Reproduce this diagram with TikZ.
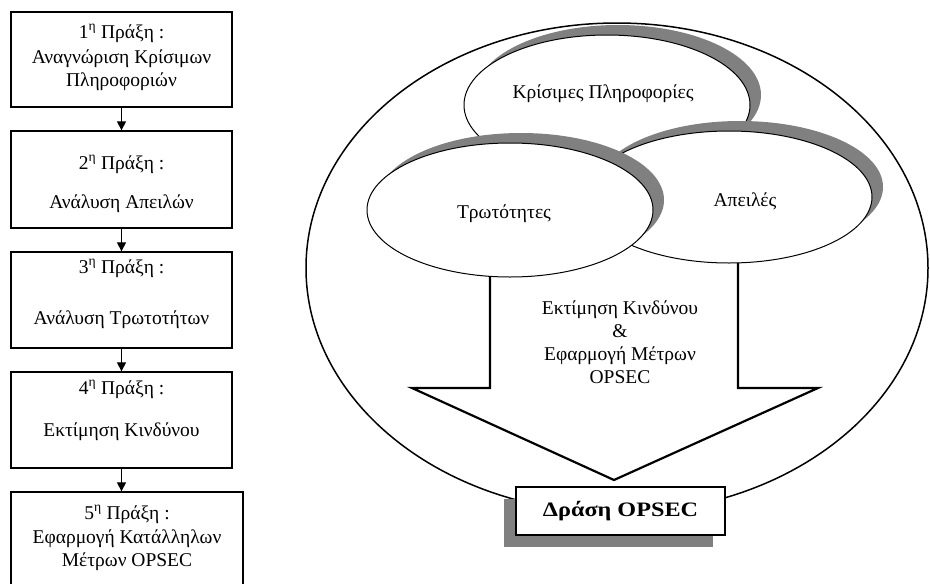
\documentclass[tikz,border=0pt]{standalone}
\usepackage{fontspec}
\usepackage{graphicx}
\setmainfont{Liberation Serif}
\usetikzlibrary{arrows.meta,shapes.geometric,shadows}
\definecolor{shadowgray}{RGB}{128,128,128}
\begin{document}
\begin{tikzpicture}[x=1pt,y=-1pt,
  stepbox/.style={draw, line width=1.3pt, inner sep=0pt, fill=white},
  txt/.style={font=\fontsize{19.5}{24}\selectfont, inner sep=0pt, anchor=base},
  flow/.style={line width=1.2pt, -{Triangle[width=9pt,length=9pt]}},
  oval/.style={ellipse, draw, line width=1pt, fill=white, inner sep=0pt, minimum width=286pt},
  ovalshadow/.style={drop shadow={shadow xshift=11pt, shadow yshift=10pt, fill=shadowgray, opacity=1}},
  bigarrow/.style={draw, line width=2.2pt, line join=miter},
  resultbox/.style={draw, line width=1.3pt, fill=white, inner sep=0pt,
     minimum width=209pt, minimum height=48pt,
     font=\fontsize{20.5}{24}\selectfont\bfseries,
     drop shadow={shadow xshift=-12pt, shadow yshift=-12pt, fill=shadowgray, opacity=1}},
]
\useasboundingbox (0,0) rectangle (930,584);

% ---- left flow of steps ----
\node[stepbox, minimum width=221pt, minimum height=95pt] (b1) at (121.5,59.5) {};
\node[stepbox, minimum width=221pt, minimum height=97pt] (b2) at (121.5,179.5) {};
\node[stepbox, minimum width=221pt, minimum height=96pt] (b3) at (121.5,300) {};
\node[stepbox, minimum width=221pt, minimum height=96pt] (b4) at (121.5,420) {};
\node[stepbox, minimum width=232pt, minimum height=94pt] (b5) at (127,539) {};

\node[txt] (t1a) at (121.5,38) {1\textsuperscript{η} Πράξη :};
\node[txt] (t1b) at (121.5,63) {Αναγνώριση Κρίσιμων};
\node[txt] (t1c) at (121.5,86) {Πληροφοριών};
\node[txt] (t2a) at (121.5,169) {2\textsuperscript{η} Πράξη :};
\node[txt] (t2b) at (121.5,208) {Ανάλυση Απειλών};
\node[txt] (t3a) at (121.5,273) {3\textsuperscript{η} Πράξη :};
\node[txt] (t3b) at (121.5,324) {Ανάλυση Τρωτοτήτων};
\node[txt] (t4a) at (121.5,394) {4\textsuperscript{η} Πράξη :};
\node[txt] (t4b) at (121.5,436) {Εκτίμηση Κινδύνου};
\node[txt] (t5a) at (127,519) {5\textsuperscript{η} Πράξη :};
\node[txt] (t5b) at (127,543) {Εφαρμογή Κατάλληλων};
\node[txt] (t5c) at (127,566) {Μέτρων OPSEC};

\draw[flow] (b1.south) -- (b2.north);
\draw[flow] (b2.south) -- (b3.north);
\draw[flow] (b3.south) -- (b4.north);
\draw[flow] (b4.south) -- (b4.south |- b5.north);

% ---- right diagram ----
\node[ellipse, draw, line width=1.5pt, inner sep=0pt, minimum width=622pt, minimum height=490pt] (big) at (617,268) {};

\node[oval, ovalshadow, minimum height=140pt] (krit) at (607,105) {};
\node[oval, ovalshadow, minimum height=132pt] (apeil) at (729,197) {};
\node[oval, ovalshadow, minimum height=134pt] (trot) at (510,210) {};

\node[txt] (lkrit) at (603,98) {Κρίσιμες Πληροφορίες};
\node[txt] (lapeil) at (745,206) {Απειλές};
\node[txt] (ltrot) at (504,218) {Τρωτότητες};

\coordinate (sl) at (490,276.3);
\coordinate (sr) at (738,262.9);
\coordinate (hl) at (412,388);
\coordinate (hr) at (818,388);
\coordinate (tip) at (614,480);
\draw[bigarrow] (sl) -- (sl |- hl) -- (hl) -- (tip) -- (hr) -- (sr |- hr) -- (sr);

\node[font=\fontsize{19.5}{23}\selectfont, align=center, inner sep=0pt] (atxt) at (620,342)
  {Εκτίμηση Κινδύνου\\\&\\Εφαρμογή Μέτρων\\OPSEC};

\node[resultbox] (action) at (620.5,511) {\scalebox{1.18}[1]{Δράση OPSEC}};
\end{tikzpicture}
\end{document}
